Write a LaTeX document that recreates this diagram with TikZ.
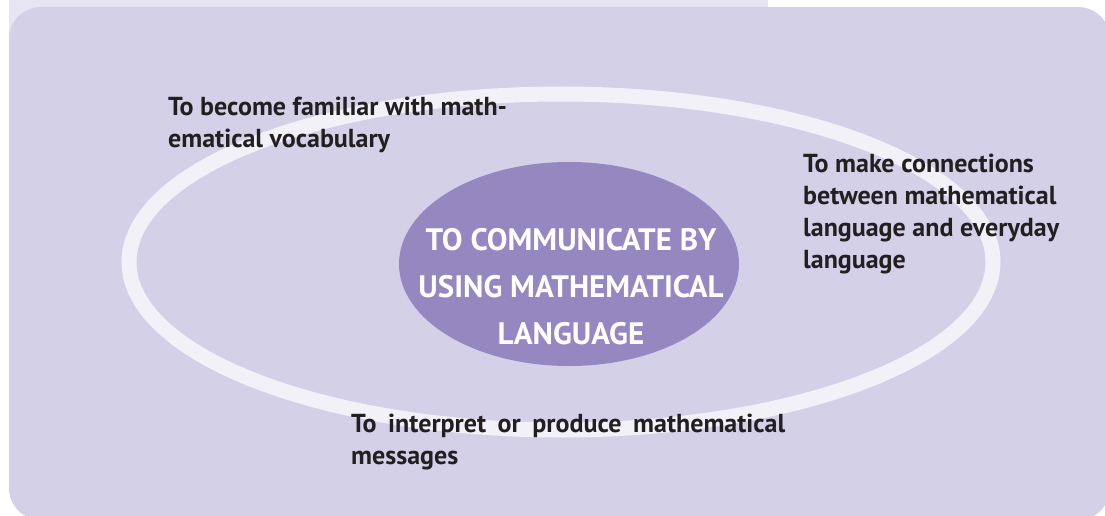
\documentclass[tikz,border=0pt]{standalone}
\usepackage{fontspec}
\setmainfont{PT Sans}
\usetikzlibrary{positioning,shapes.geometric}
\definecolor{Ink}{HTML}{231F20}
\definecolor{Lilac}{HTML}{D4D0E7}
\definecolor{LilacPale}{HTML}{E7E5F1}
\definecolor{Halo}{HTML}{F2F1F8}
\definecolor{Violet}{HTML}{9587BF}
\tikzset{
  panel/.style={fill=Lilac,rounded corners=32pt},
  halo/.style={draw=Halo,line width=15pt},
  core/.style={ellipse,fill=Violet,minimum width=340pt,minimum height=204pt,inner sep=0pt},
  coretext/.style={align=center,text=white,font=\bfseries\fontsize{31}{47}\selectfont,inner sep=0pt},
  goal/.style={align=left,text=Ink,font=\bfseries\fontsize{26}{32}\selectfont,inner sep=0pt,anchor=base west}
}

\begin{document}
\begin{tikzpicture}[x=1pt,y=-1pt]
\useasboundingbox (0,0) rectangle (1105,516);
% backdrop
\fill[LilacPale] (9,0) rectangle (768,40);
\fill[panel] (9,7) rectangle (1110,520);
\draw[halo] (561,262) ellipse [x radius=432,y radius=168];
\node[core] (hub) at (569,264) {};
\node[coretext] (hubtext) at (571,287) {TO COMMUNICATE BY\\USING MATHEMATICAL\\LANGUAGE};
% goals round the ring
\node[goal] (vocab) at (168,147) {To become familiar with math-\\ematical vocabulary};
\node[goal] (links) at (803,268) {To make connections\\between mathematical\\language and everyday\\language};
\node[goal,align=justify,text width=434pt] (messages) at (351,432) {To interpret or produce mathematical\linebreak messages};
\end{tikzpicture}
\end{document}
